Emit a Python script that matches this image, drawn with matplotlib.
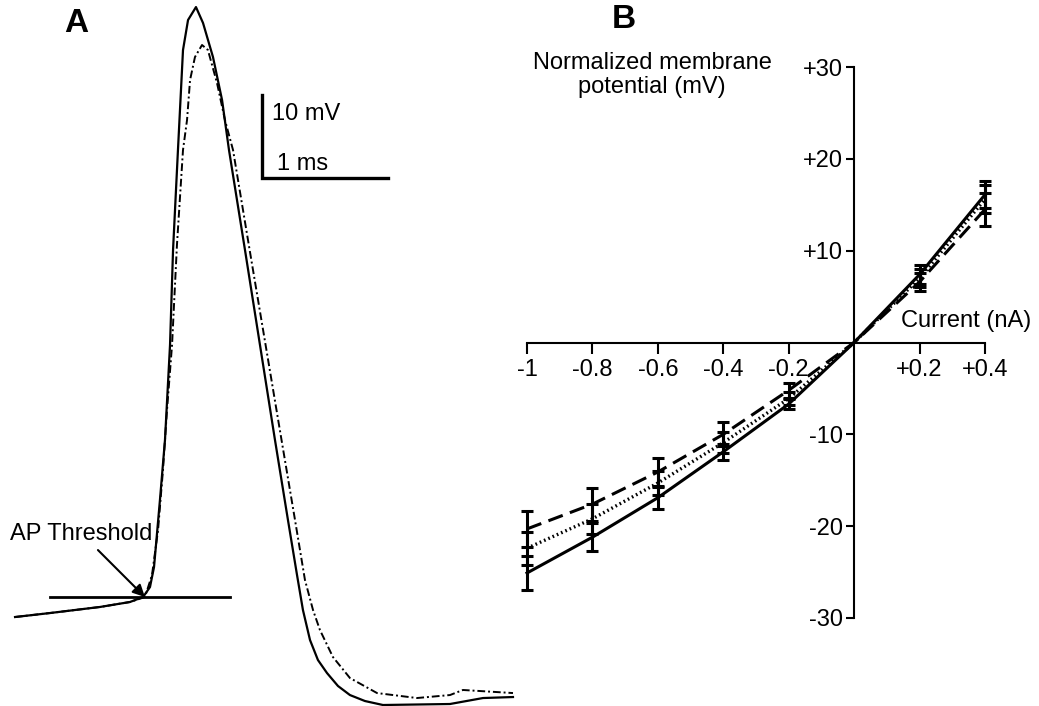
import matplotlib
matplotlib.use("Agg")
import matplotlib.pyplot as plt

plt.rcParams['font.family'] = ['Liberation Sans', 'DejaVu Sans']

# ---------------- Panel A data (time in ms, membrane potential in mV) ----------------
t_ctrl = [0.04, 0.317, 0.714, 0.952, 1.056, 1.111, 1.143, 1.167, 1.190, 1.230, 1.270,
          1.294, 1.333, 1.349, 1.373, 1.413, 1.476, 1.532, 1.611, 1.683, 1.738, 1.865,
          1.984, 2.103, 2.206, 2.278, 2.325, 2.381, 2.444, 2.516, 2.603, 2.698, 2.817,
          2.960, 3.492, 3.754, 3.992]
v_ctrl = [-52.41, -51.93, -51.20, -50.60, -50.0, -48.80, -46.39, -42.29, -38.31, -31.08,
          -19.64, -8.19, 3.86, 8.67, 15.90, 19.52, 21.08, 19.16, 15.06, 9.88, 3.86, -8.19,
          -19.64, -31.08, -40.72, -47.35, -51.57, -55.18, -57.59, -59.16, -60.72, -61.81,
          -62.53, -63.01, -62.89, -62.17, -62.05]

t_drug = [0.04, 0.317, 0.714, 0.952, 1.071, 1.127, 1.175, 1.214, 1.246, 1.286, 1.325,
          1.373, 1.405, 1.429, 1.468, 1.524, 1.571, 1.643, 1.706, 1.770, 1.902, 2.022,
          2.155, 2.262, 2.341, 2.405, 2.460, 2.563, 2.698, 2.913, 3.230, 3.492, 3.595, 3.992]
v_drug = [-52.41, -51.93, -51.20, -50.60, -50.0, -47.35, -41.93, -34.70, -27.47, -19.64,
          -7.59, 3.86, 7.47, 12.29, 15.06, 16.51, 15.90, 11.93, 7.47, 3.86, -8.19, -19.04,
          -31.08, -40.72, -47.95, -51.57, -53.98, -57.23, -59.76, -61.57, -62.17, -61.81,
          -61.20, -61.57]

threshold_mV = -50.0

# ---------------- Panel B data ----------------
current_nA = [-1, -0.8, -0.6, -0.4, -0.2, 0, 0.2, 0.4]
v_solid = [-25.1, -21.2, -16.9, -11.9, -6.7, 0, 7.4, 16.1]
v_dashed = [-20.3, -17.6, -14.1, -10.0, -5.2, 0, 6.6, 14.5]
v_dotted = [-22.4, -19.2, -15.3, -10.9, -6.1, 0, 7.0, 15.6]
e_solid = [1.8, 1.5, 1.2, 0.9, 0.5, 0, 1.0, 1.5]
e_dashed = [2.0, 1.8, 1.5, 1.3, 0.8, 0, 1.0, 1.8]
e_dotted = [1.8, 1.6, 1.3, 1.1, 0.7, 0, 1.0, 1.5]

xticks = [-1, -0.8, -0.6, -0.4, -0.2, 0.2, 0.4]
xticklabels = ['-1', '-0.8', '-0.6', '-0.4', '-0.2', '+0.2', '+0.4']
yticks = [-30, -20, -10, 10, 20, 30]
yticklabels = ['-30', '-20', '-10', '+10', '+20', '+30']

FS = 17
W, H = 1039, 706
fig = plt.figure(figsize=(W / 100, H / 100), dpi=100)

# ---------------- Panel A ----------------
axA = fig.add_axes([0, 0, 0.5, 1])
axA.set_xlim(-0.0794, 4.0437)
axA.set_ylim(-63.13, 21.93)
axA.axis('off')
axA.plot(t_ctrl, v_ctrl, color='black', lw=1.6, clip_on=False, solid_joinstyle='round')
axA.plot(t_drug, v_drug, color='black', lw=1.4, linestyle=(0, (4, 1.5, 1, 1.5)), clip_on=False)
axA.plot([0.317, 1.746], [threshold_mV, threshold_mV], color='black', lw=2.0)
axA.annotate('', xy=(1.071, -50.0), xytext=(0.698, -44.34),
             arrowprops=dict(arrowstyle='-|>', color='black', lw=1.5,
                             mutation_scale=18, shrinkA=0, shrinkB=0))
axA.text(0.0, -43.13, 'AP Threshold', fontsize=FS, ha='left', va='baseline')
# scale bar
axA.plot([2.0, 2.0, 3.0], [10.5, 0.5, 0.5], color='black', lw=2.4, solid_joinstyle='miter')
axA.text(2.08, 7.47, '10 mV', fontsize=FS, ha='left', va='baseline')
axA.text(2.12, 1.45, '1 ms', fontsize=FS, ha='left', va='baseline')
fig.text(76 / W, 1 - 24 / H, 'A', fontsize=24, fontweight='bold', ha='center', va='center')

# ---------------- Panel B ----------------
axB = fig.add_axes([527 / W, 1 - 618 / H, 458 / W, 551 / H])
axB.set_xlim(-1, 0.4)
axB.set_ylim(-30, 30)
axB.patch.set_alpha(0)
for s in ['top', 'right']:
    axB.spines[s].set_visible(False)
axB.spines['left'].set_position(('data', 0))
axB.spines['bottom'].set_position(('data', 0))
for s in ['left', 'bottom']:
    axB.spines[s].set_linewidth(1.5)

axB.plot(current_nA, v_solid, color='black', lw=2.2, clip_on=False)
axB.plot(current_nA, v_dashed, color='black', lw=2.2, linestyle=(0, (5, 2.5)), clip_on=False)
axB.plot(current_nA, v_dotted, color='black', lw=2.4, linestyle=(0, (0.5, 0.9)), clip_on=False)
for vals, errs in [(v_solid, e_solid), (v_dashed, e_dashed), (v_dotted, e_dotted)]:
    xs = [x for x, e in zip(current_nA, errs) if e > 0]
    ys = [y for y, e in zip(vals, errs) if e > 0]
    es = [e for e in errs if e > 0]
    axB.errorbar(xs, ys, yerr=es, fmt='none', ecolor='black', elinewidth=2.2,
                 capsize=4, capthick=2.2, clip_on=False)

axB.set_xticks(xticks)
axB.set_xticklabels(xticklabels)
axB.set_yticks(yticks)
axB.set_yticklabels(yticklabels)
axB.tick_params(axis='x', direction='out', length=8, width=1.5, pad=4, labelsize=FS)
axB.tick_params(axis='y', direction='out', length=6, width=1.5, pad=2, labelsize=FS)

axB.text(0.343, 2.3, 'Current (nA)', fontsize=FS, ha='center', va='center')
fig.text(652 / W, 1 - 75 / H, 'Normalized membrane\npotential (mV)', fontsize=FS,
         ha='center', va='center', linespacing=1.1)
fig.text(624 / W, 1 - 20 / H, 'B', fontsize=24, fontweight='bold', ha='center', va='center')

fig.savefig('out.png', dpi=100)
